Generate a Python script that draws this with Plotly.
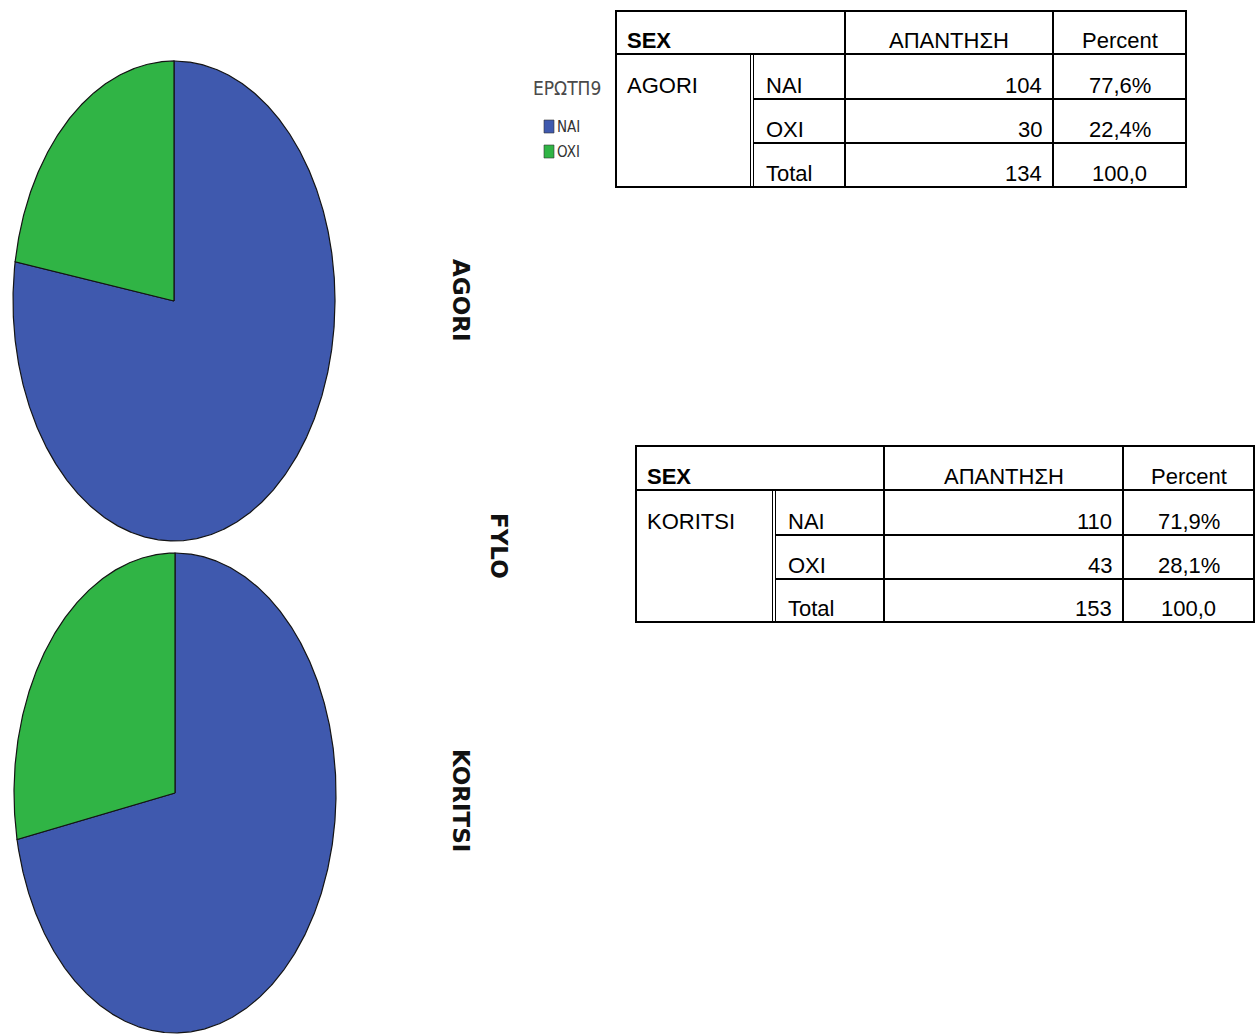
import numpy as np
import plotly.graph_objects as go

# ---- data -------------------------------------------------------------
groups = ["AGORI", "KORITSI"]
answers = ["NAI", "OXI"]
counts_agori = [104, 30]
counts_koritsi = [110, 43]
group_counts = [counts_agori, counts_koritsi]

legend_title = "ΕΡΩΤΠ9"
facet_title = "FYLO"
table_headers = ["SEX", "ΑΠΑΝΤΗΣΗ", "Percent"]
total_label = "Total"
total_percent = "100,0"

# ---- style ------------------------------------------------------------
slice_colors = ["#3F59AE", "#30B445"]
W, H = 1256, 1034
TABLE_FONT = "Liberation Sans, Arial, sans-serif"
NARROW_FONT = "Liberation Sans Narrow, DejaVu Sans Condensed, sans-serif"
FS = 22

# pie frames (centre, horizontal and vertical semi-axes), in page pixels
pie_frames = [
    dict(cx=174, cy=301, a=161, b=240),
    dict(cx=175, cy=793, a=161, b=240),
]
# table grids: column edges (with the double rule) and row edges
table_grids = [
    dict(x=[616, 750.5, 753.5, 845, 1053, 1186], y=[11, 54, 99, 143, 187]),
    dict(x=[636, 772.5, 775.5, 884, 1123, 1254], y=[446, 490, 535, 579, 622]),
]


def fmt_pct(v, tot):
    return f"{100 * v / tot:.1f}".replace(".", ",") + "%"


fig = go.Figure()

# ---- elliptical pies, slices run clockwise from 12 o'clock ----------------
for counts, frame in zip(group_counts, pie_frames):
    total = sum(counts)
    start = 90.0
    for label, value, color in zip(answers, counts, slice_colors):
        sweep = 360.0 * value / total
        n = max(int(sweep * 3), 4)
        t = np.radians(np.linspace(start, start - sweep, n))
        xs = np.concatenate([[frame["cx"]], frame["cx"] + frame["a"] * np.cos(t), [frame["cx"]]])
        ys = np.concatenate([[frame["cy"]], frame["cy"] - frame["b"] * np.sin(t), [frame["cy"]]])
        fig.add_trace(go.Scatter(
            x=xs, y=ys, mode="lines", fill="toself", fillcolor=color,
            line=dict(color="#141414", width=1.2),
            name=label, text=f"{label}: {value}", hoverinfo="text",
            showlegend=False,
        ))
        start -= sweep

shapes = []
annotations = []

# ---- legend -------------------------------------------------------------
annotations.append(dict(
    x=531, y=88, text=legend_title, showarrow=False, xanchor="left", yanchor="middle",
    font=dict(family=NARROW_FONT, size=19, color="#4a4a4a"),
))
for i, (label, color) in enumerate(zip(answers, slice_colors)):
    y0 = 120 + i * 25
    shapes.append(dict(type="rect", xref="x", yref="y", x0=544, x1=554, y0=y0, y1=y0 + 13,
                       fillcolor=color, line=dict(color="#333", width=0.6)))
    annotations.append(dict(
        x=555, y=y0 + 7, text=label, showarrow=False, xanchor="left", yanchor="middle",
        font=dict(family=NARROW_FONT, size=15, color="#333"),
    ))

# ---- rotated facet labels -------------------------------------------------
rot_font = dict(family="DejaVu Sans, sans-serif", size=23, color="#111")
for name, (cx, cy) in zip(groups + [facet_title], [(461, 300), (461, 800), (499, 546)]):
    annotations.append(dict(
        x=cx, y=cy, text=f"<b>{name}</b>", textangle=90, showarrow=False,
        xanchor="center", yanchor="middle", font=rot_font,
    ))


# ---- frequency tables ------------------------------------------------------
def hline(x0, x1, y, w=2):
    shapes.append(dict(type="line", xref="x", yref="y", x0=x0, x1=x1, y0=y, y1=y,
                       line=dict(color="#000", width=w)))


def vline(x, y0, y1, w=2):
    shapes.append(dict(type="line", xref="x", yref="y", x0=x, x1=x, y0=y0, y1=y1,
                       line=dict(color="#000", width=w)))


def text(x, y_base, s, anchor="left", bold=False):
    annotations.append(dict(
        x=x, y=y_base - 8, text=f"<b>{s}</b>" if bold else s, showarrow=False,
        xanchor=anchor, yanchor="middle",
        font=dict(family=TABLE_FONT, size=FS, color="#000"),
    ))


for group, counts, grid in zip(groups, group_counts, table_grids):
    xl, xd1, xd2, xv, xp, xr = grid["x"]
    yt, yh, y1, y2, yb = grid["y"]
    # outer frame
    hline(xl - 1, xr + 1, yt)
    hline(xl - 1, xr + 1, yb)
    vline(xl, yt, yb)
    vline(xr, yt, yb)
    # header rule and column rules
    hline(xl, xr, yh)
    vline(xv, yt, yb)
    vline(xp, yt, yb)
    # double rule after the row-group column
    vline(xd1, yh, yb, w=1)
    vline(xd2, yh, yb, w=1)
    # row rules in the body
    hline(xd2, xr, y1)
    hline(xd2, xr, y2)

    total = sum(counts)
    text(xl + 9, yh - 5.5, table_headers[0], bold=True)
    text((xv + xp) / 2, yh - 5.5, table_headers[1], anchor="center")
    text((xp + xr) / 2, yh - 5.5, table_headers[2], anchor="center")
    text(xl + 9, y1 - 6, group)
    row_labels = answers + [total_label]
    row_values = counts + [total]
    row_pcts = [fmt_pct(v, total) for v in counts] + [total_percent]
    for lab, val, pc, ybot in zip(row_labels, row_values, row_pcts, [y1, y2, yb]):
        text(xd2 + 10, ybot - 6, lab)
        text(xp - 9, ybot - 6, str(val), anchor="right")
        text((xp + xr) / 2, ybot - 6, pc, anchor="center")

fig.update_layout(
    width=W, height=H, autosize=False,
    margin=dict(l=0, r=0, t=0, b=0),
    paper_bgcolor="white", plot_bgcolor="white",
    xaxis=dict(range=[0, W], visible=False, fixedrange=True),
    yaxis=dict(range=[H, 0], visible=False, fixedrange=True),
    shapes=shapes, annotations=annotations,
    showlegend=False,
)

fig.write_html("out.html")
